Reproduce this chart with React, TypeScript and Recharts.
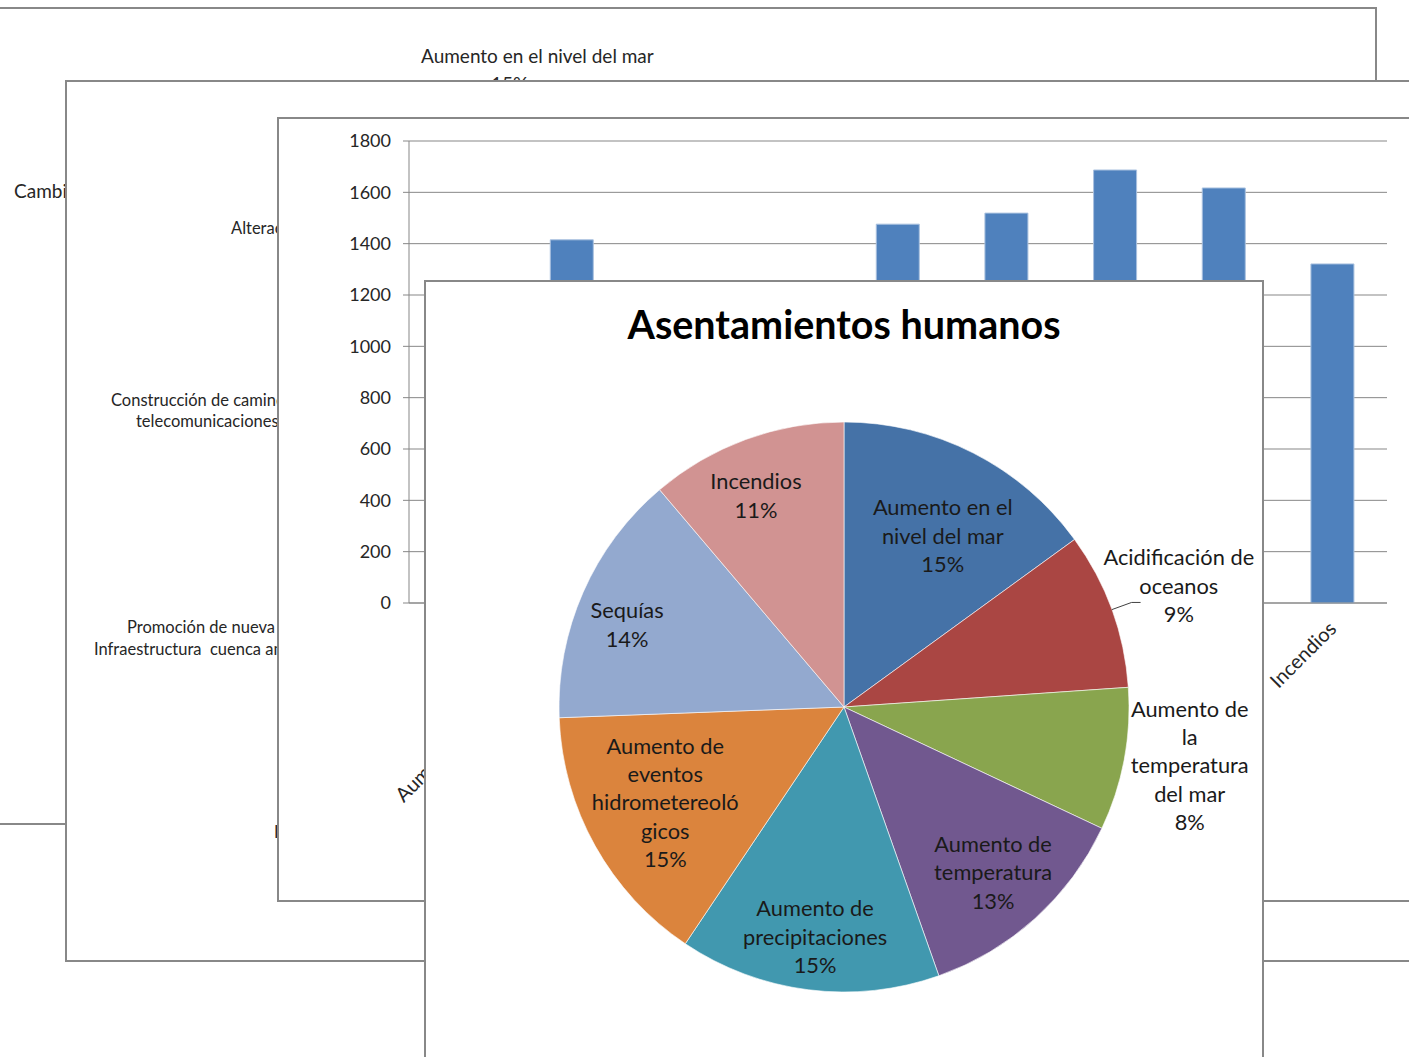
import React from 'react';
import { BarChart, Bar, XAxis, YAxis, CartesianGrid, PieChart, Pie, Cell } from 'recharts';

// ---------- Bar chart (window behind) ----------
const BAR_CATEGORIES = [
  'Otros',
  'Aumento en el nivel del mar',
  'Acidificación de oceanos',
  'Aumento de la temperatura del mar',
  'Aumento de temperatura',
  'Aumento de precipitaciones',
  'Aumento de eventos hidrometereológicos',
  'Sequías',
  'Incendios',
];
const BAR_VALUES = [1150, 1415, 1050, 1200, 1476, 1519, 1687, 1617, 1321];
const Y_TICKS = [0, 200, 400, 600, 800, 1000, 1200, 1400, 1600, 1800];

// ---------- Pie chart (front window) ----------
const PIE_TITLE = 'Asentamientos humanos';
const PIE_NAMES = [
  'Aumento en el nivel del mar',
  'Acidificación de oceanos',
  'Aumento de la temperatura del mar',
  'Aumento de temperatura',
  'Aumento de precipitaciones',
  'Aumento de eventos hidrometereológicos',
  'Sequías',
  'Incendios',
];
const PIE_VALUES = [15, 8.9, 8.1, 12.6, 14.8, 15, 14.4, 11.2];
const PIE_LABEL_LINES = [
  ['Aumento en el', 'nivel del mar'],
  ['Acidificación de', 'oceanos'],
  ['Aumento de', 'la', 'temperatura', 'del mar'],
  ['Aumento de', 'temperatura'],
  ['Aumento de', 'precipitaciones'],
  ['Aumento de', 'eventos', 'hidrometereoló', 'gicos'],
  ['Sequías'],
  ['Incendios'],
];

// styles / label layout
const PIE_COLORS = ['#4572A7', '#AA4643', '#89A54E', '#71588F', '#4198AF', '#DB843D', '#93A9CF', '#D19392'];
const LABEL_RADIUS = [0.695, 1.25, 1.23, 0.78, 0.81, 0.71, 0.815, 0.805];
const LABEL_ANGLE_SHIFT = [2.9, 0, -1.1, 0, 0, 1.2, -2.8, -2.4]; // clockwise degrees
const LEADER_LINES = [false, true, false, false, false, false, false, false];

const FONT = 'Lato, Carlito, "Open Sans", sans-serif';
const FRAME = '#888888';
const GRID = '#878787';

const barData = BAR_CATEGORIES.map((name, i) => ({ name, value: BAR_VALUES[i] }));
const pieData = PIE_NAMES.map((name, i) => ({ name, value: PIE_VALUES[i] }));
const boundaryTicks = Array.from({ length: BAR_CATEGORIES.length + 1 }, (_, i) => i);

const frameStyle = (left: number, top: number, width: number, height: number): React.CSSProperties => ({
  position: 'absolute',
  left,
  top,
  width,
  height,
  background: '#ffffff',
  border: `2px solid ${FRAME}`,
  boxSizing: 'border-box',
});

const textStyle = (left: number, top: number, size: number, extra: React.CSSProperties = {}): React.CSSProperties => ({
  position: 'absolute',
  left,
  top,
  fontFamily: FONT,
  fontSize: size,
  lineHeight: '20px',
  color: '#262626',
  whiteSpace: 'nowrap',
  ...extra,
});

const XTick = (props: any) => {
  const { x, y, payload } = props;
  const ax = x + 5;
  const ay = y + 19;
  return (
    <text
      x={ax}
      y={ay}
      transform={`rotate(-45, ${ax}, ${ay})`}
      textAnchor="end"
      fontFamily={FONT}
      fontSize={20}
      fill="#262626"
    >
      {payload.value}
    </text>
  );
};

const renderPieLabel = (props: any) => {
  const { cx, cy, midAngle, outerRadius, percent, index } = props;
  const r = outerRadius * LABEL_RADIUS[index];
  const rad = (-(midAngle - LABEL_ANGLE_SHIFT[index]) * Math.PI) / 180;
  const x = cx + r * Math.cos(rad);
  const y = cy + r * Math.sin(rad);
  const lines = [...PIE_LABEL_LINES[index], `${Math.round(percent * 100)}%`];
  const lh = 28.3;
  return (
    <text x={x} y={y} textAnchor="middle" fill="#1a1a1a" fontFamily={FONT} fontSize={21.8}>
      {lines.map((l, i) => (
        <tspan key={i} x={x} y={y + (i - (lines.length - 1) / 2) * lh} dominantBaseline="central">
          {l}
        </tspan>
      ))}
    </text>
  );
};

const renderLabelLine = (props: any) => {
  const { cx, cy, midAngle, outerRadius, index } = props;
  if (!LEADER_LINES[index]) return null;
  const rad = (-midAngle * Math.PI) / 180;
  const x1 = cx + outerRadius * Math.cos(rad);
  const y1 = cy + outerRadius * Math.sin(rad);
  const x2 = cx + (outerRadius + 21) * Math.cos(rad);
  const y2 = cy + (outerRadius + 21) * Math.sin(rad);
  const x3 = x2 + 9;
  return <polyline points={`${x1},${y1} ${x2},${y2} ${x3},${y2}`} stroke="#404040" strokeWidth={1} fill="none" />;
};

export default function App() {
  return (
    <div
      style={{
        position: 'absolute',
        left: 0,
        top: 0,
        width: 1409,
        height: 1057,
        overflow: 'hidden',
        background: '#ffffff',
      }}
    >
      {/* Window 1 (back) */}
      <div style={frameStyle(-20, 7, 1397, 818)} />
      <div style={textStyle(421, 46, 19)}>Aumento en el nivel del mar</div>
      <div style={textStyle(491, 74, 19)}>15%</div>
      <div style={textStyle(14, 181, 19)}>Cambio</div>

      {/* Window 2 */}
      <div style={frameStyle(65, 80, 1500, 882)} />
      <div style={textStyle(231, 218, 16.5)}>Alteración</div>
      <div style={textStyle(111, 390, 16.5)}>Construcción de caminos</div>
      <div style={textStyle(136, 411, 16.5)}>telecomunicaciones</div>
      <div style={textStyle(127, 617, 16.5)}>Promoción de nueva</div>
      <div style={textStyle(94, 639, 16.5)}>Infraestructura&nbsp;&nbsp;cuenca ama</div>
      <div style={textStyle(274, 822, 16.5)}>In</div>

      {/* Window 3: bar chart */}
      <div style={frameStyle(277, 117, 1200, 785)} />
      <div style={{ position: 'absolute', left: 278, top: 118 }}>
        <BarChart
          width={1131}
          height={783}
          data={barData}
          margin={{ top: 23, right: 22, bottom: 296, left: 0 }}
          barCategoryGap="30%"
        >
          <CartesianGrid vertical={false} stroke={GRID} strokeWidth={1} />
          <XAxis
            dataKey="name"
            height={1}
            interval={0}
            axisLine={{ stroke: GRID }}
            tickLine={false}
            tick={<XTick />}
          />
          <XAxis
            xAxisId="bounds"
            type="number"
            domain={[0, BAR_CATEGORIES.length]}
            ticks={boundaryTicks}
            allowDataOverflow
            height={1}
            axisLine={false}
            tick={false}
            tickLine={{ stroke: GRID }}
            tickSize={6}
          />
          <YAxis
            width={131}
            domain={[0, 1800]}
            ticks={Y_TICKS}
            interval={0}
            tickSize={6}
            tickMargin={12}
            axisLine={{ stroke: GRID }}
            tickLine={{ stroke: GRID }}
            tick={{ fontFamily: FONT, fontSize: 18, fill: '#262626' }}
          />
          <Bar dataKey="value" fill="#4F81BD" stroke="#A9C1DF" strokeWidth={1} isAnimationActive={false} />
        </BarChart>
      </div>

      {/* Window 4 (front): pie chart */}
      <div style={frameStyle(424, 280, 840, 800)} />
      <div
        style={{
          position: 'absolute',
          left: 425,
          top: 300,
          width: 838,
          textAlign: 'center',
          fontFamily: FONT,
          fontWeight: 700,
          fontSize: 39.5,
          lineHeight: '48px',
          color: '#000000',
          whiteSpace: 'nowrap',
        }}
      >
        {PIE_TITLE}
      </div>
      <div style={{ position: 'absolute', left: 425, top: 281 }}>
        <PieChart width={838} height={776} margin={{ top: 0, right: 0, bottom: 0, left: 0 }}>
          <Pie
            data={pieData}
            dataKey="value"
            nameKey="name"
            cx={419}
            cy={426}
            outerRadius={285}
            startAngle={90}
            endAngle={-270}
            stroke="#ffffff"
            strokeWidth={0.6}
            label={renderPieLabel}
            labelLine={renderLabelLine}
            isAnimationActive={false}
          >
            {pieData.map((d, i) => (
              <Cell key={d.name} fill={PIE_COLORS[i]} />
            ))}
          </Pie>
        </PieChart>
      </div>
    </div>
  );
}
